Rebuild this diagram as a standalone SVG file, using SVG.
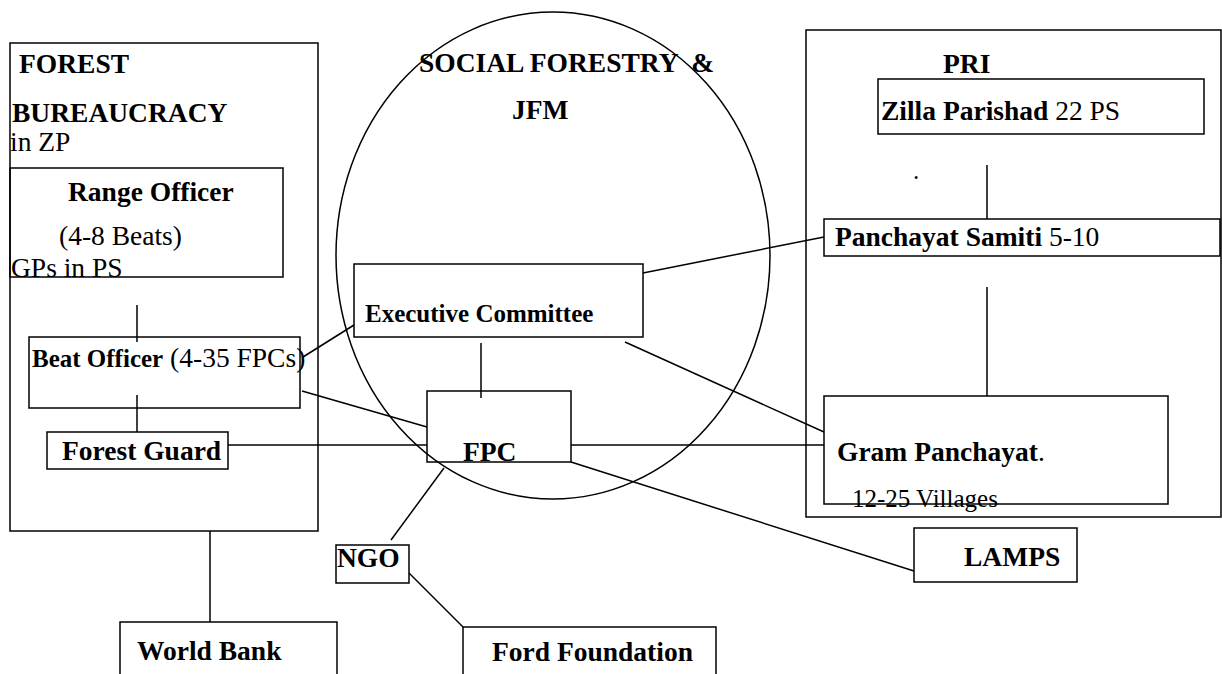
<svg xmlns="http://www.w3.org/2000/svg" width="1222" height="674" viewBox="0 0 1222 674">
<style>
.box{fill:none;stroke:#000;stroke-width:1.5}
.ln{fill:none;stroke:#000;stroke-width:1.5}
text{font-family:"Liberation Serif","Times New Roman",serif;fill:#000}
.b{font-weight:bold;font-size:27.5px}
.r{font-size:27.5px}
.b11{font-weight:bold;font-size:25px}
.r11{font-size:25px}
</style>
<rect width="1222" height="674" fill="#fff"/>
<g id="forest-bureaucracy">
<rect class="box" x="10" y="43" width="308" height="488"/>
<text class="b" x="19" y="73">FOREST</text>
<text class="b" x="12" y="122">BUREAUCRACY</text>
<text class="r" x="10" y="151">in ZP</text>
</g>
<g id="range-officer">
<rect class="box" x="10" y="168" width="273" height="109"/>
<text class="b" x="68" y="201">Range Officer</text>
<text class="r" x="59" y="245">(4-8 Beats)</text>
<text class="r" x="11" y="277">GPs in PS</text>
</g>
<g id="beat-officer">
<rect class="box" x="29" y="337" width="271" height="71"/>
<text x="32" y="367"><tspan class="b11">Beat Officer</tspan><tspan class="r"> (4-35 FPCs)</tspan></text>
</g>
<g id="forest-guard">
<rect class="box" x="47" y="432" width="181" height="37"/>
<text class="b" x="62" y="460">Forest Guard</text>
</g>
<g id="social-forestry">
<ellipse class="ln" cx="553" cy="255.5" rx="217" ry="243.5"/>
<text class="b" x="419" y="72" xml:space="preserve">SOCIAL FORESTRY  &amp;</text>
<text class="b" x="512" y="119">JFM</text>
</g>
<g id="executive-committee">
<rect class="box" x="354" y="264" width="289" height="73"/>
<text class="b11" x="365" y="322">Executive Committee</text>
</g>
<g id="fpc">
<rect class="box" x="427" y="391" width="144" height="71"/>
<text class="b" x="463" y="461">FPC</text>
</g>
<g id="pri">
<rect class="box" x="806" y="30" width="415" height="487"/>
<text class="b" x="943" y="73">PRI</text>
<text class="r11" x="913" y="179">.</text>
</g>
<g id="zilla-parishad">
<rect class="box" x="878" y="79" width="326" height="55"/>
<text x="881" y="120"><tspan class="b">Zilla Parishad</tspan><tspan class="r"> 22 PS</tspan></text>
</g>
<g id="panchayat-samiti">
<rect class="box" x="824" y="219" width="396" height="37"/>
<text x="835" y="246"><tspan class="b">Panchayat Samiti</tspan><tspan class="r"> 5-10</tspan></text>
</g>
<g id="gram-panchayat">
<rect class="box" x="824" y="396" width="344" height="108"/>
<text x="837" y="461"><tspan class="b">Gram Panchayat</tspan><tspan class="r">.</tspan></text>
<text class="r11" x="852" y="507" fill="#222">12-25 Villages</text>
</g>
<g id="lamps">
<rect class="box" x="914" y="528" width="163" height="54"/>
<text class="b" x="964" y="566">LAMPS</text>
</g>
<g id="ngo">
<rect class="box" x="336" y="545" width="73" height="38"/>
<text class="b" x="337" y="567">NGO</text>
</g>
<g id="world-bank">
<rect class="box" x="120" y="622" width="217" height="70"/>
<text class="b" x="137" y="660">World Bank</text>
</g>
<g id="ford-foundation">
<rect class="box" x="463" y="627" width="253" height="70"/>
<text class="b" x="492" y="661">Ford Foundation</text>
</g>
<g id="connectors">
<line class="ln" x1="137" y1="305" x2="137" y2="342"/>
<line class="ln" x1="137" y1="395" x2="137" y2="432"/>
<line class="ln" x1="228" y1="445" x2="427" y2="445"/>
<line class="ln" x1="571" y1="445" x2="824" y2="445"/>
<line class="ln" x1="302" y1="391" x2="427" y2="427"/>
<line class="ln" x1="303" y1="357" x2="354" y2="325"/>
<line class="ln" x1="481" y1="343" x2="481" y2="398"/>
<line class="ln" x1="643" y1="273" x2="824" y2="237"/>
<line class="ln" x1="625" y1="342" x2="824" y2="432"/>
<line class="ln" x1="571" y1="462" x2="914" y2="571"/>
<line class="ln" x1="987" y1="165" x2="987" y2="219"/>
<line class="ln" x1="987" y1="287" x2="987" y2="396"/>
<line class="ln" x1="444" y1="468" x2="391" y2="540"/>
<line class="ln" x1="409" y1="573" x2="463" y2="627"/>
<line class="ln" x1="210" y1="531" x2="210" y2="622"/>
</g>
</svg>
